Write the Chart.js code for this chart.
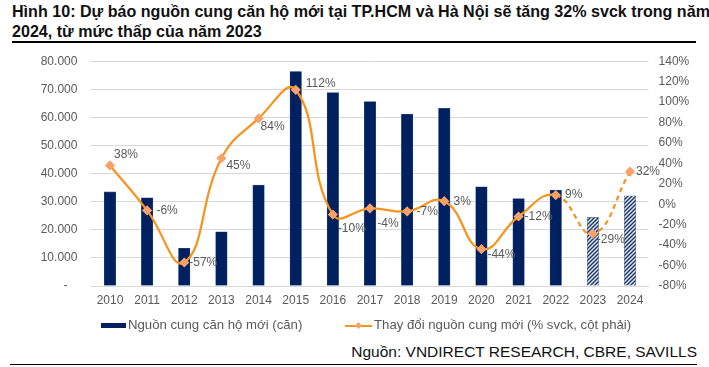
<!DOCTYPE html>
<html>
<head>
<meta charset="utf-8">
<script src="https://cdn.jsdelivr.net/npm/chart.js@4.4.0/dist/chart.umd.min.js"></script>
<style>
  body { margin: 0; background: #fff; width: 709px; height: 367px; position: relative; overflow: hidden; font-family: "Liberation Sans", Arial, sans-serif; }
  #title { position: absolute; left: 12px; top: 1px; font: bold 16.1px/20px "Liberation Sans", Arial, sans-serif; color: #111; white-space: nowrap; }
  .rule { position: absolute; background: #000; }
  #wrap { position: absolute; left: 0; top: 40px; width: 709px; height: 280px; }
  .leg { position: absolute; top: 317px; font-size: 13.2px; color: #595959; white-space: nowrap; line-height: 16px; }
  .sw { display: inline-block; vertical-align: middle; }
  #source { position: absolute; right: 12px; top: 343px; font: 15.5px "Liberation Sans", Arial, sans-serif; color: #111; white-space: nowrap; }
</style>
</head>
<body>
<div id="title">Hình 10: Dự báo nguồn cung căn hộ mới tại TP.HCM và Hà Nội sẽ tăng 32% svck trong năm<br>2024, từ mức thấp của năm 2023</div>
<div class="rule" style="left:12px;top:41px;width:684px;height:2px"></div>
<div id="wrap"><canvas id="myChart" width="709" height="280"></canvas></div>
<div class="leg" style="left:101px"><span class="sw" style="width:25px;height:5px;background:#002060;margin-right:2px"></span>Nguồn cung căn hộ mới (căn)</div>
<div class="leg" style="left:345px"><span class="sw" style="position:relative;width:27px;height:2px;background:#F7941D;margin-right:2px"><span style="position:absolute;left:11px;top:-2px;width:5px;height:5px;background:#F8A26A;transform:rotate(45deg)"></span></span>Thay đổi nguồn cung mới (% svck, cột phải)</div>
<div id="source">Nguồn: VNDIRECT RESEARCH, CBRE, SAVILLS</div>
<div class="rule" style="left:10px;top:364px;width:687px;height:1px"></div>

<script>
const years = ['2010','2011','2012','2013','2014','2015','2016','2017','2018','2019','2020','2021','2022','2023','2024'];
// Nguồn cung căn hộ mới (căn)
const supply = [33500, 31400, 13400, 19300, 35900, 76300, 68800, 65600, 61100, 63200, 35300, 31100, 34100, 24400, 32100];
// Thay đổi nguồn cung mới (% svck)
const growth = [38, -6, -57, 45, 84, 112, -10, -4, -7, 3, -44, -12, 9, -29, 32];
const forecastFrom = 13; // 2023, 2024 la du bao

// vi tri nhan % so voi diem (dx, dy)
const labelOffsets = [[16,-11],[20,0],[19,0],[17,7],[14,8],[25,-6],[19,14],[18,15],[20,0],[18,0],[20,5],[20,0],[18,0],[18,6],[18,0]];

const gray = '#595959';

// hoa van soc cheo cho cot du bao
const pc = document.createElement('canvas');
pc.width = 4; pc.height = 4;
const p = pc.getContext('2d');
p.fillStyle = '#dfe6f1';
p.fillRect(0, 0, 4, 4);
p.strokeStyle = '#1b3766';
p.lineWidth = 1.4;
p.beginPath();
p.moveTo(0, 4); p.lineTo(4, 0);
p.moveTo(-1, 1); p.lineTo(1, -1);
p.moveTo(3, 5); p.lineTo(5, 3);
p.stroke();
const hatch = p.createPattern(pc, 'repeat');

function fmt(v) {
  if (v === 0) return '-   ';
  return String(v).replace(/\B(?=(\d{3})+(?!\d))/g, '.');
}

const pctLabels = {
  id: 'pctLabels',
  afterDatasetsDraw(chart) {
    const meta = chart.getDatasetMeta(0);
    const c = chart.ctx;
    c.save();
    c.font = '12px "Liberation Sans", Arial, sans-serif';
    c.fillStyle = gray;
    c.textAlign = 'center';
    c.textBaseline = 'middle';
    meta.data.forEach((pt, i) => {
      const o = labelOffsets[i];
      c.fillText(growth[i] + '%', pt.x + o[0], pt.y + o[1]);
    });
    c.restore();
  }
};

const ctx = document.getElementById('myChart');
const chart = new Chart(ctx, {
  data: {
    labels: years,
    datasets: [{
      type: 'line',
      label: 'Thay đổi nguồn cung mới (% svck, cột phải)',
      data: growth,
      yAxisID: 'y1',
      borderColor: '#F7941D',
      borderWidth: 2.25,
      tension: 0.45,
      pointStyle: 'rectRot',
      pointRadius: 3.5,
      pointBackgroundColor: '#F8A26A',
      pointBorderColor: '#F8A26A',
      segment: {
        borderDash: c => c.p0DataIndex >= forecastFrom - 1 ? [5, 4] : undefined
      },
      order: 0
    }, {
      type: 'bar',
      label: 'Nguồn cung căn hộ mới (căn)',
      data: supply,
      yAxisID: 'y',
      backgroundColor: c => c.dataIndex >= forecastFrom ? hatch : '#002060',
      borderColor: c => c.dataIndex >= forecastFrom ? '#6f7f99' : '#334d80',
      borderWidth: 0.6,
      barThickness: 11.5,
      order: 1
    }]
  },
  options: {
    responsive: false,
    animation: false,
    devicePixelRatio: 1,
    layout: { padding: { top: 13.5, left: 0, right: 0, bottom: 0 } },
    plugins: { legend: { display: false }, tooltip: { enabled: false } },
    scales: {
      x: {
        grid: { display: false, drawTicks: false },
        border: { display: true, color: '#d9d9d9' },
        ticks: { color: gray, font: { size: 12, family: '"Liberation Sans", Arial' }, padding: 7, maxRotation: 0 },
        afterFit: s => { s.height = 34; }
      },
      y: {
        position: 'left',
        min: 0, max: 80000,
        grid: { color: '#d9d9d9', drawTicks: false },
        border: { display: false },
        ticks: { stepSize: 10000, callback: fmt, color: gray, font: { size: 12, family: '"Liberation Sans", Arial' }, padding: 14 },
        afterFit: s => { s.width = 91.4; }
      },
      y1: {
        position: 'right',
        min: -80, max: 140,
        grid: { display: false, drawTicks: false },
        border: { display: false },
        ticks: { stepSize: 20, callback: v => v + '%', color: gray, font: { size: 12, family: '"Liberation Sans", Arial' }, padding: 10 },
        afterFit: s => { s.width = 60.4; }
      }
    }
  },
  plugins: [pctLabels]
});
</script>
</body>
</html>
